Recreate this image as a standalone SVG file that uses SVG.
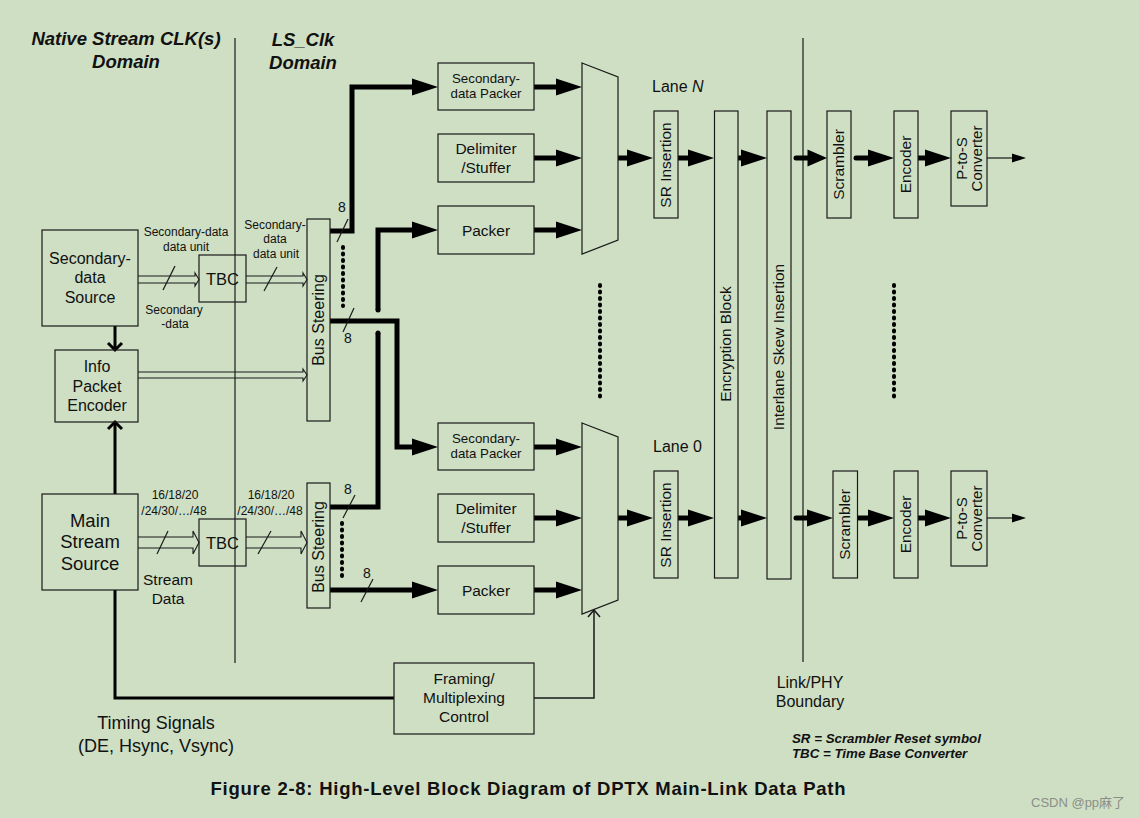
<svg xmlns="http://www.w3.org/2000/svg" width="1139" height="818" viewBox="0 0 1139 818">
<style>
.t{font-family:"Liberation Sans",Arial,sans-serif;fill:#111;text-anchor:middle}
.st{text-anchor:start}
.bi{font-weight:bold;font-style:italic}
.b{fill:none;stroke:#1a1a1a;stroke-width:1.2}
.k{fill:none;stroke:#000;stroke-width:5}
.k3{fill:none;stroke:#000;stroke-width:3}
.thin{fill:none;stroke:#1a1a1a;stroke-width:1.2}
.ha{fill:none;stroke:#1a1a1a;stroke-width:1.1}
.dot{fill:none;stroke:#000;stroke-width:4;stroke-linecap:round;stroke-dasharray:1 5.5}
.s14{font-size:14px}
.s155{font-size:15.5px}
.s16{font-size:16px}
</style>
<defs>
<path id="ah" d="M0,0 L-26,-8.5 L-26,8.5 Z" fill="#000"/>
<path id="ahs" d="M0,0 L-14,-4.5 L-14,4.5 Z" fill="#000"/>
</defs>
<rect width="1139" height="818" fill="#CFDFC4"/>

<g id="titles">
<text class="t bi" x="126" y="45" font-size="18.5">Native Stream CLK(s)</text>
<text class="t bi" x="126" y="68" font-size="18.5">Domain</text>
<text class="t bi" x="303" y="46" font-size="18.5">LS_Clk</text>
<text class="t bi" x="303" y="69" font-size="18.5">Domain</text>
</g>

<g id="boundaries">
<line x1="235" y1="38" x2="235" y2="663" class="thin"/>
<line x1="803" y1="38" x2="803" y2="662" class="thin"/>
<text class="t s16" x="810" y="688">Link/PHY</text>
<text class="t s16" x="810" y="707">Boundary</text>
</g>

<g id="connectors">
<path class="k3" d="M115,326 V349"/>
<path class="k3" d="M108,343 L115,350 L122,343"/>
<path class="k3" d="M115,494 V423"/>
<path class="k3" d="M108,429 L115,422 L122,429"/>
<path class="k3" d="M115,590 V698 H394"/>
<path d="M534,698 H594 V610" fill="none" stroke="#1a1a1a" stroke-width="1.5"/>
<path d="M588,617 L594,610 L600,617" fill="none" stroke="#1a1a1a" stroke-width="1.5"/>

<path class="ha" d="M138,276 H195 V273 L199,279.5 L195,286 V283 H138"/>
<path class="ha" d="M246,276 H303 V273 L307,279.5 L303,286 V283 H246"/>
<path class="ha" d="M138,372 H303 V369 L307,375 L303,381 V378 H138"/>
<path class="ha" d="M138,537 H193 V531 L199,542.5 L193,554 V548 H138"/>
<path class="ha" d="M246,537 H301 V531 L307,542.5 L301,554 V548 H246"/>
<line class="thin" x1="163" y1="290" x2="175" y2="266"/>
<line class="thin" x1="264" y1="291" x2="277" y2="267"/>
<line class="thin" x1="157" y1="554" x2="168" y2="531"/>
<line class="thin" x1="258" y1="554" x2="271" y2="531"/>

<path class="k" d="M330,231 H352 V87 H413"/>
<use href="#ah" x="438" y="87"/>
<path class="k" d="M330,321 H397 V447 H413"/>
<use href="#ah" x="438" y="447"/>
<path class="k" d="M330,507 H378 V333"/>
<circle cx="378" cy="333" r="2.5" fill="#000"/>
<path class="k" d="M378,310 V230 H413"/>
<circle cx="378" cy="310" r="2.5" fill="#000"/>
<use href="#ah" x="438" y="230"/>
<path class="k" d="M330,590 H413"/>
<use href="#ah" x="438" y="590"/>

<line class="thin" x1="337" y1="242" x2="348" y2="219"/>
<line class="thin" x1="343" y1="332" x2="354" y2="308"/>
<line class="thin" x1="343" y1="518" x2="355" y2="495"/>
<line class="thin" x1="361" y1="602" x2="373" y2="579"/>
<text class="t s14" x="342" y="212">8</text>
<text class="t s14" x="348" y="343">8</text>
<text class="t s14" x="348" y="494">8</text>
<text class="t s14" x="367" y="578">8</text>

<path class="dot" d="M343,247 V306"/>
<path class="dot" d="M342,523 V578"/>
<path class="dot" d="M600,285 V398"/>
<path class="dot" d="M894,285 V398"/>

<path class="k" d="M534,87 H557"/><use href="#ah" x="582" y="87"/>
<path class="k" d="M534,158 H557"/><use href="#ah" x="582" y="158"/>
<path class="k" d="M534,230 H557"/><use href="#ah" x="582" y="230"/>
<path class="k" d="M534,447 H557"/><use href="#ah" x="582" y="447"/>
<path class="k" d="M534,518 H557"/><use href="#ah" x="582" y="518"/>
<path class="k" d="M534,590 H557"/><use href="#ah" x="582" y="590"/>

<path class="k" d="M618,158 H628"/><use href="#ah" x="653" y="158"/>
<path class="k" d="M678,158 H689"/><use href="#ah" x="714" y="158"/>
<path class="k" d="M738,158 H749"/><use href="#ah" x="767" y="158"/>
<path class="k" d="M796,158 H809" stroke-linecap="round"/><use href="#ah" transform="translate(827,158) scale(0.75,1)"/>
<path class="k" d="M856,158 H869" stroke-linecap="round"/><use href="#ah" x="894" y="158"/>
<path class="k" d="M918,158 H927"/><use href="#ah" x="951" y="158"/>
<path class="thin" d="M987,158 H1013" stroke-width="1.5"/><use href="#ahs" x="1026" y="158"/>

<path class="k" d="M618,518 H628"/><use href="#ah" x="653" y="518"/>
<path class="k" d="M678,518 H689"/><use href="#ah" x="714" y="518"/>
<path class="k" d="M738,518 H749"/><use href="#ah" x="767" y="518"/>
<path class="k" d="M796,518 H808" stroke-linecap="round"/><use href="#ah" x="833" y="518"/>
<path class="k" d="M857,518 H869"/><use href="#ah" x="894" y="518"/>
<path class="k" d="M918,518 H927"/><use href="#ah" x="951" y="518"/>
<path class="thin" d="M987,518 H1013" stroke-width="1.5"/><use href="#ahs" x="1026" y="518"/>
</g>

<g id="labels">
<text class="t" font-size="12" x="186" y="236">Secondary-data</text>
<text class="t" font-size="12" x="186" y="251">data unit</text>
<text class="t" font-size="12" x="174" y="314">Secondary</text>
<text class="t" font-size="12" x="175" y="328">-data</text>
<text class="t" font-size="12" x="275" y="229">Secondary-</text>
<text class="t" font-size="12" x="275" y="243">data</text>
<text class="t" font-size="12" x="276" y="258">data unit</text>
<text class="t" font-size="12" x="175" y="499">16/18/20</text>
<text class="t" font-size="12" x="174" y="515">/24/30/…/48</text>
<text class="t" font-size="12" x="271" y="499">16/18/20</text>
<text class="t" font-size="12" x="270" y="515">/24/30/…/48</text>
<text class="t s155" x="168" y="585">Stream</text>
<text class="t s155" x="168" y="604">Data</text>
<text class="t" font-size="18" x="156" y="729">Timing Signals</text>
<text class="t" font-size="18" x="156" y="752">(DE, Hsync, Vsync)</text>
<text class="t st s16" x="652" y="92">Lane <tspan font-style="italic">N</tspan></text>
<text class="t st s16" x="653" y="452">Lane 0</text>
</g>

<g id="sec-source">
<rect class="b" x="42" y="230" width="96" height="96"/>
<text class="t s16" x="90" y="264">Secondary-</text>
<text class="t s16" x="90" y="283">data</text>
<text class="t s16" x="90" y="303">Source</text>
</g>
<g id="info-packet-encoder">
<rect class="b" x="55" y="350" width="83" height="72"/>
<text class="t s16" x="97" y="372">Info</text>
<text class="t s16" x="97" y="392">Packet</text>
<text class="t s16" x="97" y="411">Encoder</text>
</g>
<g id="main-stream-source">
<rect class="b" x="42" y="494" width="96" height="96"/>
<text class="t" font-size="18.5" x="90" y="527">Main</text>
<text class="t" font-size="18.5" x="90" y="548">Stream</text>
<text class="t" font-size="18.5" x="90" y="570">Source</text>
</g>
<g id="tbc-sec">
<rect class="b" x="199" y="255" width="47" height="47"/>
<text class="t" font-size="16.5" x="222.5" y="284.5">TBC</text>
</g>
<g id="tbc-main">
<rect class="b" x="199" y="519" width="47" height="47"/>
<text class="t" font-size="16.5" x="222.5" y="548.5">TBC</text>
</g>
<g id="bus-steering-top">
<rect class="b" x="307" y="219" width="23" height="202"/>
<text class="t s16" transform="translate(318,320) rotate(-90)" dy="0.35em">Bus Steering</text>
</g>
<g id="bus-steering-bottom">
<rect class="b" x="307" y="483" width="23" height="125"/>
<text class="t s16" transform="translate(318,547) rotate(-90)" dy="0.35em">Bus Steering</text>
</g>

<g id="sec-packer-n">
<rect class="b" x="438" y="63" width="96" height="47"/>
<text class="t" font-size="13.3" x="486" y="83">Secondary-</text>
<text class="t" font-size="13.3" x="486" y="98">data Packer</text>
</g>
<g id="delimiter-n">
<rect class="b" x="438" y="134" width="96" height="48"/>
<text class="t s155" x="486" y="154">Delimiter</text>
<text class="t s155" x="486" y="173">/Stuffer</text>
</g>
<g id="packer-n">
<rect class="b" x="438" y="206" width="96" height="48"/>
<text class="t s155" x="486" y="236">Packer</text>
</g>
<g id="sec-packer-0">
<rect class="b" x="438" y="423" width="96" height="47"/>
<text class="t" font-size="13.3" x="486" y="443">Secondary-</text>
<text class="t" font-size="13.3" x="486" y="458">data Packer</text>
</g>
<g id="delimiter-0">
<rect class="b" x="438" y="494" width="96" height="48"/>
<text class="t s155" x="486" y="514">Delimiter</text>
<text class="t s155" x="486" y="533">/Stuffer</text>
</g>
<g id="packer-0">
<rect class="b" x="438" y="566" width="96" height="48"/>
<text class="t s155" x="486" y="596">Packer</text>
</g>

<g id="mux-n"><polygon class="b" points="582,63 618,77 618,240 582,254"/></g>
<g id="mux-0"><polygon class="b" points="582,423 618,437 618,600 582,614"/></g>

<g id="framing">
<rect class="b" x="394" y="663" width="140" height="71"/>
<text class="t s155" x="464" y="684">Framing/</text>
<text class="t s155" x="464" y="703">Multiplexing</text>
<text class="t s155" x="464" y="722">Control</text>
</g>

<g id="sr-insertion-n">
<rect class="b" x="654" y="111" width="24" height="107"/>
<text class="t s155" transform="translate(666,165) rotate(-90)" dy="0.35em">SR Insertion</text>
</g>
<g id="sr-insertion-0">
<rect class="b" x="654" y="471" width="24" height="107"/>
<text class="t s155" transform="translate(666,525) rotate(-90)" dy="0.35em">SR Insertion</text>
</g>
<g id="encryption">
<rect class="b" x="714.5" y="111" width="23.5" height="467"/>
<text class="t s155" transform="translate(726,344) rotate(-90)" dy="0.35em">Encryption Block</text>
</g>
<g id="interlane-skew">
<rect class="b" x="767" y="111" width="24" height="468"/>
<text class="t s155" transform="translate(779,347) rotate(-90)" dy="0.35em">Interlane Skew Insertion</text>
</g>
<g id="scrambler-n">
<rect class="b" x="827" y="111" width="24" height="107"/>
<text class="t s155" transform="translate(839,164.5) rotate(-90)" dy="0.35em">Scrambler</text>
</g>
<g id="encoder-n">
<rect class="b" x="894" y="111" width="24" height="107"/>
<text class="t s155" transform="translate(906,164.5) rotate(-90)" dy="0.35em">Encoder</text>
</g>
<g id="ptos-n">
<rect class="b" x="951" y="111" width="36" height="95"/>
<text class="t" font-size="15" transform="translate(969,158.5) rotate(-90)"><tspan x="0" y="-2">P-to-S</tspan><tspan x="0" y="12.5">Converter</tspan></text>
</g>
<g id="scrambler-0">
<rect class="b" x="833" y="471" width="24.5" height="107"/>
<text class="t s155" transform="translate(845,524.5) rotate(-90)" dy="0.35em">Scrambler</text>
</g>
<g id="encoder-0">
<rect class="b" x="894" y="471" width="24" height="107"/>
<text class="t s155" transform="translate(906,524.5) rotate(-90)" dy="0.35em">Encoder</text>
</g>
<g id="ptos-0">
<rect class="b" x="951" y="471" width="36" height="95"/>
<text class="t" font-size="15" transform="translate(969,518.5) rotate(-90)"><tspan x="0" y="-2">P-to-S</tspan><tspan x="0" y="12.5">Converter</tspan></text>
</g>

<g id="notes">
<text class="t st bi" font-size="13.3" x="792" y="743">SR = Scrambler Reset symbol</text>
<text class="t st bi" font-size="13.3" x="792" y="758">TBC = Time Base Converter</text>
<text class="t" font-weight="bold" font-size="18.5" x="528" y="795" textLength="635" lengthAdjust="spacing">Figure 2-8: High-Level Block Diagram of DPTX Main-Link Data Path</text>
<text font-family="Liberation Sans, Noto Sans CJK SC, sans-serif" font-size="13" fill="#8a8f88" x="1031" y="807">CSDN @pp麻了</text>
</g>
</svg>
